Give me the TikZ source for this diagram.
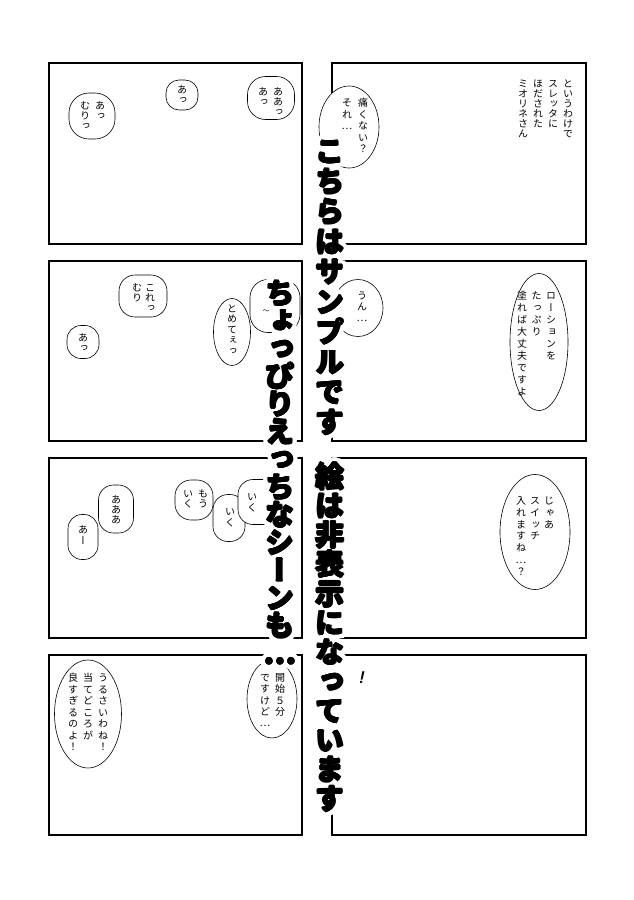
\documentclass[tikz,border=0pt]{standalone}
\usepackage{fontspec}
\usetikzlibrary{shapes.geometric}
\newfontfamily\jptate[RawFeature=+vert]{Noto Sans CJK JP}
\newfontfamily\jpflat{Noto Sans CJK JP}

\ExplSyntaxOn
\dim_new:N \l_tate_step_dim
\tl_new:N \l_tate_chars_tl
\NewDocumentCommand \tatecol { O{1em} m }
  {
    \dim_set:Nn \l_tate_step_dim {#1}
    \tl_set:No \l_tate_chars_tl {#2}
    \vbox:n
      {
        \offinterlineskip
        \tl_map_inline:Nn \l_tate_chars_tl
          {
            \hbox_to_wd:nn {1em}
              {
                \hss
                \vbox_to_ht:nn {\l_tate_step_dim}
                  { \vss \hbox:n { \vrule height .88em depth .12em width 0pt ##1 } \vss }
                \hss
              }
          }
      }
  }
\ExplSyntaxOff

\newcommand\bubbletext[6]{%
  \foreach \colstr [count=\j from 0] in {#6}
    \node[tate] (#1-\j) at (#2-\j*#4, #3) {\tatecol[#5pt]{\colstr}};
}
\newcommand\bigcol[5]{%
  \node[bigtxt, text=white, fill=white, inner xsep=-6pt] at (#2,#3) {\tatecol[#4pt]{#5}};
  \foreach \a in {0,15,...,345}
    \node[bigtxt, text=white, shift={(\a:5)}] at (#2,#3) {\tatecol[#4pt]{#5}};
  \foreach \a in {0,45,...,315}
    \node[bigtxt, shift={(\a:0.7)}] at (#2,#3) {\tatecol[#4pt]{#5}};
  \node[bigtxt] (#1) at (#2,#3) {\tatecol[#4pt]{#5}};
}

\begin{document}
\begin{tikzpicture}[x=1pt, y=-1pt,
    panel/.style={draw, line width=2.2pt},
    bubble/.style={draw, fill=white, line width=0.6pt, rounded corners=#1, inner sep=0pt},
    bubble/.default=14,
    obubble/.style={ellipse, draw, fill=white, line width=0.6pt, inner sep=0pt},
    tate/.style={inner sep=0pt, anchor=north, font=\jptate\fontsize{10}{10}\selectfont},
    bigtxt/.style={inner sep=0pt, anchor=north, font=\jptate\bfseries\fontsize{29}{29}\selectfont}]
  \fill[white] (0,0) rectangle (634,900);
  \useasboundingbox (0,0) rectangle (634,900);

  \foreach \ytop/\ybot in {63/244, 261/441, 458/638, 655/835} {
    \draw[panel] (49,\ytop) rectangle (302,\ybot);
    \draw[panel] (332,\ytop) rectangle (586,\ybot);
  }

  % row 1
  \node[bubble=20, minimum width=46, minimum height=46] (ah1) at (92,116) {};
  \bubbletext{ah1}{100}{100}{15}{10}{あっ,むりっ}
  \node[bubble=13, minimum width=32, minimum height=30] (ah2) at (182,95) {};
  \bubbletext{ah2}{182}{84}{0}{10}{あっ}
  \node[bubble=18, minimum width=47, minimum height=43] (aah) at (271,98) {};
  \bubbletext{aah}{278}{86}{15}{10}{ああっ,あっ}
  \bubbletext{narr}{568}{78}{15}{10}{というわけで,スレッタに,ほだされた,ミオリネさん}
  \node[obubble, minimum width=60, minimum height=82] (itai) at (349,127) {};
  \bubbletext{itai}{363}{97}{16}{11.5}{痛くない？,それ…}

  % row 2
  \node[bubble=16, minimum width=48, minimum height=42] (kore) at (143,296) {};
  \bubbletext{kore}{150}{282}{13}{10}{これっ,むり}
  \node[bubble=14, minimum width=32, minimum height=33] (ah3) at (83,342) {};
  \bubbletext{ah3}{83}{332}{0}{10}{あっ}
  \node[obubble, minimum width=37, minimum height=67] (tomete) at (232,332) {};
  \bubbletext{tomete}{232}{303}{0}{10.5}{とめてぇっ}
  \node[bubble=18, minimum width=50, minimum height=53] (cut) at (275,306) {};
  \node[font=\jpflat\fontsize{7}{7}\selectfont] (tilde) at (266,312) {〜};
  \node[obubble, minimum width=50, minimum height=57] (un) at (358,308) {};
  \bubbletext{un}{362}{290}{0}{11}{うん…}
  \node[obubble, minimum width=58, minimum height=137] (lotion) at (539,342) {};
  \bubbletext{lotion}{551}{289}{14.5}{12}{ローションを,たっぷり,塗れば大丈夫ですよ}

  % row 3
  \node[bubble=14, minimum width=30, minimum height=45] (aa) at (83,537) {};
  \bubbletext{aa}{83}{524}{0}{11}{あー}
  \node[bubble=15, minimum width=35, minimum height=48] (aaa) at (116,509) {};
  \bubbletext{aaa}{116}{494}{0}{10}{あああ}
  \node[bubble=16, minimum width=38, minimum height=40] (mouiku) at (194,500) {};
  \bubbletext{mouiku}{203}{488}{15}{10}{もう,いく}
  \node[bubble=15, minimum width=32, minimum height=47] (iku1) at (229,518) {};
  \bubbletext{iku1}{230}{506}{0}{11}{いく}
  \node[bubble=15, minimum width=40, minimum height=45] (iku2) at (258,502) {};
  \bubbletext{iku2}{252}{491}{0}{11}{いく}
  \node[obubble, minimum width=70, minimum height=115] (jaa) at (535,532) {};
  \bubbletext{jaa}{549}{495}{14}{11.7}{じゃあ,スイッチ,入れますね…？}

  % row 4
  \node[obubble, minimum width=67, minimum height=108] (urusai) at (88,714) {};
  \bubbletext{urusai}{103}{672}{15}{11.5}{うるさいわね！,当てどころが,良すぎるのよ！}
  \node[obubble, minimum width=50, minimum height=78] (kaishi) at (272,699) {};
  \bubbletext{kaishi}{280}{672}{15}{11.2}{開始５分,ですけど…}

  % overlay
  \bigcol{sample}{330}{136}{30.1}{こちらはサンプルです}
  \bigcol{scene}{280}{279}{27.7}{ちょっぴりえっちなシーンも…}
  \bigcol{hide}{330}{461.5}{29.3}{絵は非表示になっています}
  \node[font=\sffamily\bfseries\itshape\fontsize{17}{17}\selectfont] (excl) at (361,678) {!};
\end{tikzpicture}
\end{document}
